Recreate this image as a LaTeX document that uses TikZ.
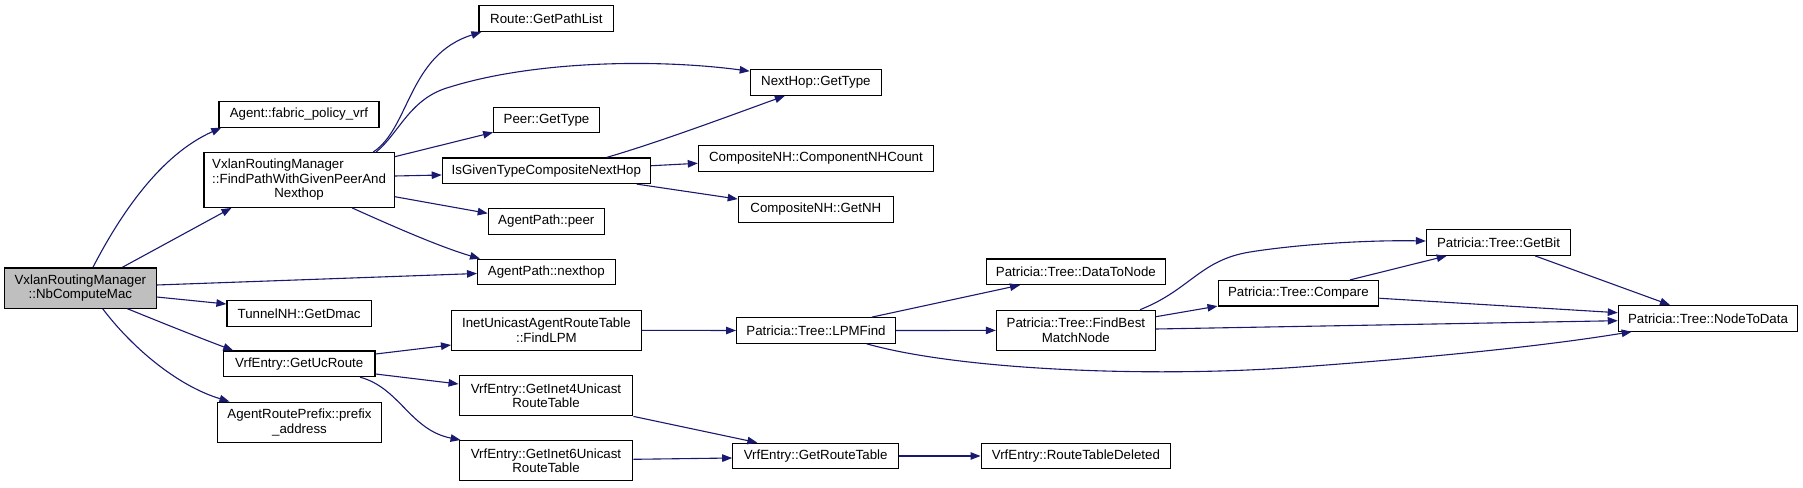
\documentclass[tikz,border=0pt]{standalone}
\usepackage{fontspec}
\setmainfont{Liberation Sans}
\usepackage{calc}
\usetikzlibrary{arrows.meta}
\definecolor{edgecol}{HTML}{191970}
\definecolor{rootfill}{HTML}{BFBFBF}
\begin{document}
\begin{tikzpicture}[x=1pt,y=-1pt,
  fbox/.style={draw=black, line width=1.2pt, fill=white, inner sep=0pt, minimum height=25.5pt, align=center, font=\fontsize{13.3}{14.5}\selectfont},
  tall/.style={minimum height=40.2pt},
  conn/.style={draw=edgecol, line width=1.1pt, -{Triangle[length=10pt,width=7.5pt]}}]
\useasboundingbox[fill=white] (0,0) rectangle (1803,487);
% nodes
\node[fbox, tall, fill=rootfill, minimum width=151.5pt] (nb) at (80.35,288) {VxlanRoutingManager\\::NbComputeMac};
\node[fbox, minimum width=160pt] (fab) at (298.9,114.35) {Agent::fabric\_policy\_vrf};
\node[fbox, minimum width=190.2pt, minimum height=54.6pt] (find) at (299.1,180) {\makebox[\widthof{::FindPathWithGivenPeerAnd}][l]{VxlanRoutingManager}\\::FindPathWithGivenPeerAnd\\Nexthop};
\node[fbox, minimum width=144.2pt] (dmac) at (299.1,313.5) {TunnelNH::GetDmac};
\node[fbox, minimum width=151.5pt] (ucr) at (299.25,363.8) {VrfEntry::GetUcRoute};
\node[fbox, tall, minimum width=164.2pt] (pfx) at (299.5,422.3) {AgentRoutePrefix::prefix\\\_address};
\node[fbox, minimum width=134.7pt] (gpl) at (546.35,18.65) {Route::GetPathList};
\node[fbox, minimum width=105.6pt] (peert) at (546.5,120) {Peer::GetType};
\node[fbox, minimum width=208pt] (isg) at (546.3,170.75) {IsGivenTypeCompositeNextHop};
\node[fbox, minimum width=116pt] (apeer) at (546.3,221.35) {AgentPath::peer};
\node[fbox, minimum width=137.5pt] (anh) at (546.35,272) {AgentPath::nexthop};
\node[fbox, tall, minimum width=189.6pt] (lpm) at (546.4,330.3) {InetUnicastAgentRouteTable\\::FindLPM};
\node[fbox, tall, minimum width=173.7pt] (inet4) at (546,395.7) {VrfEntry::GetInet4Unicast\\RouteTable};
\node[fbox, tall, minimum width=173.7pt] (inet6) at (546,460.7) {VrfEntry::GetInet6Unicast\\RouteTable};
\node[fbox, minimum width=131.1pt] (nht) at (815.85,82.5) {NextHop::GetType};
\node[fbox, minimum width=235.1pt] (cnt) at (815.95,158.5) {CompositeNH::ComponentNHCount};
\node[fbox, minimum width=155pt] (gnh) at (815.8,209.35) {CompositeNH::GetNH};
\node[fbox, minimum width=158.8pt] (lpmf) at (816,330.5) {Patricia::Tree::LPMFind};
\node[fbox, minimum width=165.7pt] (grt) at (815.65,456) {VrfEntry::GetRouteTable};
\node[fbox, minimum width=178.9pt] (d2n) at (1075.85,271.75) {Patricia::Tree::DataToNode};
\node[fbox, tall, minimum width=158.9pt] (fbm) at (1075.85,330.4) {Patricia::Tree::FindBest\\MatchNode};
\node[fbox, minimum width=189.6pt] (rtd) at (1075.9,456) {VrfEntry::RouteTableDeleted};
\node[fbox, minimum width=160.6pt] (cmp) at (1298.4,293.25) {Patricia::Tree::Compare};
\node[fbox, minimum width=144.3pt] (gbit) at (1498.55,242.5) {Patricia::Tree::GetBit};
\node[fbox, minimum width=179.3pt] (n2d) at (1708,318.35) {Patricia::Tree::NodeToData};
% edges
\draw[conn] ([xshift=12.6pt]nb.north) .. controls (120,215) and (160,155) .. ([xshift=3pt]fab.south west);
\draw[conn] ([xshift=42pt]nb.north) -- ([xshift=-67.6pt]find.south);
\draw[conn] ([yshift=3pt]nb.east) -- ([yshift=-1.5pt]anh.west);
\draw[conn] ([yshift=-9pt]nb.east) -- ([yshift=9.5pt]dmac.west);
\draw[conn] ([xshift=47pt]nb.south) .. controls (160,322) and (200,338) .. ([xshift=-66pt]ucr.north);
\draw[conn] ([xshift=22.3pt]nb.south) .. controls (130,345) and (175,385) .. ([xshift=-70pt]pfx.north);
\draw[conn] ([xshift=74pt]find.north) .. controls (410,128) and (408,55) .. ([xshift=3pt]gpl.south west);
\draw[conn] ([xshift=77pt]find.north) .. controls (400,132) and (410,98) .. (450,87) .. controls (530,62) and (650,58) .. ([yshift=-2pt]nht.north west);
\draw[conn] ([yshift=23.3pt]find.east) -- ([yshift=1pt]peert.south west);
\draw[conn] ([yshift=4pt]find.east) -- ([yshift=-4.25pt]isg.west);
\draw[conn] ([yshift=-16.7pt]find.east) -- ([yshift=8pt]apeer.west);
\draw[conn] ([xshift=53pt]find.south) .. controls (390,225) and (440,247) .. ([xshift=3pt]anh.north west);
\draw[conn] ([xshift=60.4pt]isg.north) .. controls (660,142) and (740,112) .. ([xshift=-31pt]nht.south);
\draw[conn] ([yshift=5pt]isg.east) -- ([yshift=-4.8pt]cnt.west);
\draw[conn] ([xshift=90.4pt]isg.south) -- ([yshift=10.3pt]gnh.west);
\draw[conn] ([yshift=9.8pt]ucr.east) -- ([yshift=-14.7pt]lpm.west);
\draw[conn] ([yshift=-10.2pt]ucr.east) -- ([yshift=11.7pt]inet4.west);
\draw[conn] ([xshift=60.75pt]ucr.south) .. controls (400,388) and (410,430) .. ([xshift=2pt]inet6.north west);
\draw[conn] (lpm.east) -- (lpmf.west);
\draw[conn] (inet4.south east) -- ([xshift=-58.3pt]grt.north);
\draw[conn] ([yshift=1.4pt]inet6.east) -- ([yshift=-2pt]grt.west);
\draw[conn] (grt.east) -- (rtd.west);
\draw[conn] ([xshift=55.7pt]lpmf.north) -- ([xshift=-55.85pt]d2n.south);
\draw[conn] (lpmf.east) -- (fbm.west);
\draw[conn] ([xshift=50.7pt]lpmf.south) .. controls (960,370) and (1150,378) .. (1300,367) .. controls (1450,356) and (1550,345) .. ([xshift=-76.3pt]n2d.south);
\draw[conn] ([xshift=64.15pt]fbm.north) .. controls (1190,290) and (1200,260) .. (1250,252) .. controls (1300,244) and (1370,240) .. ([yshift=1.5pt]gbit.west);
\draw[conn] ([yshift=13.7pt]fbm.east) -- ([yshift=0.5pt]cmp.south west);
\draw[conn] ([yshift=1.4pt]fbm.east) -- ([yshift=-2.35pt]n2d.west);
\draw[conn] ([xshift=51.6pt]cmp.north) -- ([xshift=-51.85pt]gbit.south);
\draw[conn] ([yshift=-5pt]cmp.east) -- ([yshift=5.65pt]n2d.west);
\draw[conn] ([xshift=36.45pt]gbit.south) -- ([xshift=-38pt]n2d.north);
\end{tikzpicture}
\end{document}
